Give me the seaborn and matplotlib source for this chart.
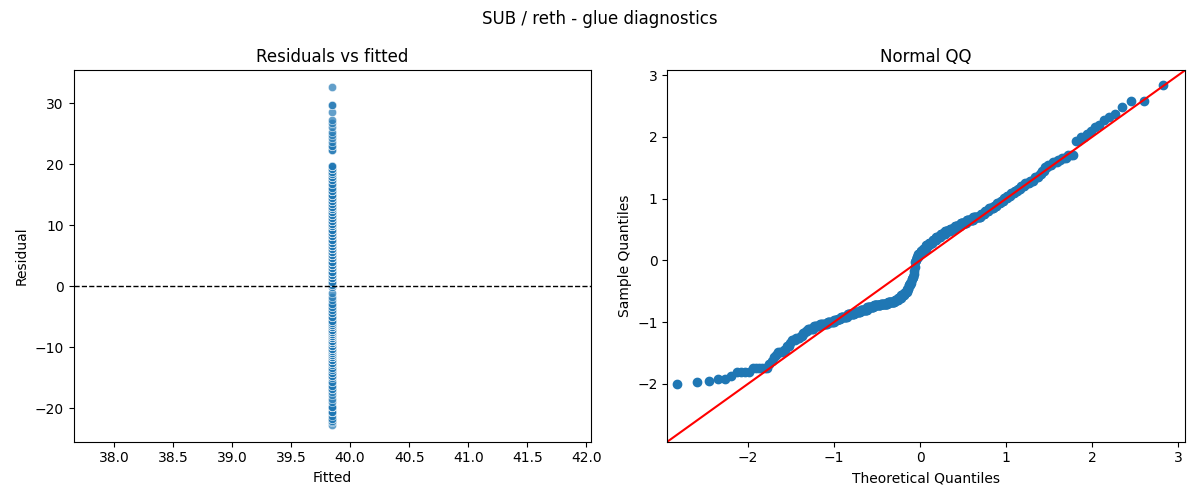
import numpy as np
import pandas as pd
import matplotlib
matplotlib.use("Agg")
import matplotlib.pyplot as plt
import seaborn as sns
from statistics import NormalDist

# intercept-only model, so every fitted value is the same
fitted_value = 39.85

resid_levels = [
    -22.7, -22.3, -22.1, -21.8, -21.2, -20.6, -19.8,
    -19.0, -18.4, -17.8, -17.3, -16.85, -16.35, -15.75, -15.05, -14.65, -14.25,
    -13.75, -13.35, -12.95, -12.55, -12.05, -11.65, -11.25, -10.95, -10.65,
    -10.25, -9.75, -9.35, -8.95, -8.55, -8.15, -7.85, -7.55, -7.15, -6.75, -6.3,
    -5.95, -5.65, -5.05, -4.45, -3.95, -3.35, -2.85, -2.3, -1.75, -1.05, -0.15,
    0.25, 0.75, 1.35, 1.85, 2.35, 2.95, 3.45, 3.95, 4.55, 5.05, 5.55, 6.05, 6.6,
    7.15, 7.65, 8.2, 8.75, 9.25, 9.8, 10.25, 10.75, 11.15, 11.65, 12.15, 12.65, 13.05, 13.45,
    13.95, 14.45, 14.95, 15.55, 16.15, 16.75, 17.45, 17.85, 18.35, 18.75, 19.15, 19.65,
    22.3, 23.0, 23.6, 24.2, 24.8, 25.3, 26.1, 26.8, 27.3, 28.6, 29.7, 32.6,
]
resid_counts = [
    1, 1, 1, 2, 1, 4, 6,
    1, 1, 1, 1, 3, 2, 2, 1, 3, 3,
    2, 2, 2, 5, 6, 8, 8, 4, 4,
    9, 10, 9, 11, 11, 12, 13, 13, 6, 6, 6,
    3, 3, 3, 3, 2, 2, 2, 1, 1, 1, 1,
    2, 3, 5, 5, 6, 6, 7, 7, 8, 9, 9, 9, 10,
    11, 11, 12, 6, 6, 7, 4, 5, 4, 4, 4, 4, 4, 3,
    4, 4, 4, 4, 2, 2, 2, 3, 3, 2, 3, 3,
    2, 2, 1, 1, 1, 1, 1, 1, 1, 1, 2, 1,
]

resid = np.repeat(resid_levels, resid_counts)
n = len(resid)
df = pd.DataFrame({"fitted": fitted_value, "resid": resid})

# normal QQ: standardised residuals against quantiles at i/(n+1)
z = np.sort((resid - resid.mean()) / resid.std())
theo = np.array([NormalDist().inv_cdf(i / (n + 1)) for i in range(1, n + 1)])
qq = pd.DataFrame({"theoretical": theo, "sample": z})

fig, axes = plt.subplots(1, 2, figsize=(12, 5))

ax = axes[0]
sns.scatterplot(data=df, x="fitted", y="resid", alpha=0.7, ax=ax)
ax.axhline(0, color="black", linestyle="--", linewidth=1)
ax.set_title("Residuals vs fitted")
ax.set_xlabel("Fitted")
ax.set_ylabel("Residual")

ax = axes[1]
sns.scatterplot(data=qq, x="theoretical", y="sample", s=36, color="C0",
                edgecolor="C0", linewidth=1, ax=ax)
ax.axline((0, 0), slope=1, color="red", linewidth=1.5)
ax.set_xlim(-2.94, 3.08)
ax.set_ylim(-2.94, 3.08)
ax.set_title("Normal QQ")
ax.set_xlabel("Theoretical Quantiles")
ax.set_ylabel("Sample Quantiles")

fig.suptitle("SUB / reth - glue diagnostics")
fig.tight_layout()
fig.savefig("out.png", dpi=100)
